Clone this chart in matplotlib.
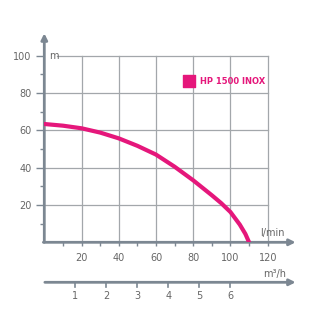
import matplotlib
matplotlib.use("Agg")
import matplotlib.pyplot as plt

# pump curve (flow l/min, head m)
flow = [0, 10, 20, 30, 40, 50, 60, 70, 80, 90, 95, 100, 105, 108, 110]
head = [63.4, 62.5, 61.1, 58.8, 55.7, 51.7, 47.0, 40.5, 33.2, 25.2, 21.0, 16.2, 9.5, 4.5, 0.0]

x_ticks = [20, 40, 60, 80, 100, 120]
y_ticks = [20, 40, 60, 80, 100]
m3h_ticks = [1, 2, 3, 4, 5, 6]
series_name = "HP 1500 INOX"

axis_col = "#7c8792"
grid_col = "#a3a7ab"
text_col = "#666666"
pink = "#e5177b"

W, H = 322, 318
fig = plt.figure(figsize=(W / 100, H / 100), dpi=100)

left = 44.3 / W
width = 135 * 1.8617 / W
ax = fig.add_axes([left, 75.7 / H, width, 112 * 1.866 / H])
ax.set_xlim(0, 135)
ax.set_ylim(0, 112)
for s in ax.spines.values():
    s.set_visible(False)

# grid
for x in x_ticks:
    ax.plot([x, x], [0, 100], color=grid_col, lw=0.9, zorder=1)
for y in y_ticks[:-1]:
    ax.plot([0, 120], [y, y], color=grid_col, lw=0.9, zorder=1)
ax.plot([7, 120], [100, 100], color=grid_col, lw=0.9, zorder=1)
ax.text(2.5, 100, "m", color=text_col, fontsize=7, va="center", ha="left")

# axes with arrows
arrow = dict(arrowstyle="-|>", color=axis_col, lw=2, mutation_scale=9, shrinkA=0, shrinkB=0)
ax.annotate("", xy=(135, 0), xytext=(-0.5, 0), arrowprops=arrow)
ax.annotate("", xy=(0, 112), xytext=(0, 0), arrowprops=arrow)

ax.set_xticks(x_ticks)
ax.set_xticks([10, 30, 50, 70, 90, 110], minor=True)
ax.set_yticks(y_ticks)
ax.set_yticks([10, 30, 50, 70, 90], minor=True)
ax.tick_params(axis="x", which="both", direction="out", length=3, width=1, color=axis_col,
               labelsize=7, labelcolor=text_col, pad=5)
ax.tick_params(axis="y", which="major", direction="out", length=6, width=1, color=axis_col,
               labelsize=7, labelcolor=text_col, pad=3)
ax.tick_params(axis="y", which="minor", direction="out", length=3, width=1, color=axis_col)

ax.plot(flow, head, color=pink, lw=3, solid_capstyle="round", solid_joinstyle="round", zorder=3)

ax.text(116, 5, "l/min", color=text_col, fontsize=7, ha="left", va="center")

# legend
ax.scatter([77.6], [86.7], marker="s", s=75, color=pink, zorder=4)
ax.text(83.5, 86.3, series_name, color=pink, fontsize=6, fontweight="bold", va="center")

# second axis: m3/h
ax2 = fig.add_axes([left, (35.7 - 10) / H, width, 20 / H])
ax2.set_xlim(0, 135)
ax2.set_ylim(-1, 1)
ax2.axis("off")
ax2.annotate("", xy=(135, 0), xytext=(0.3, 0), arrowprops=arrow)
for v in m3h_ticks:
    x = v / 0.06
    ax2.plot([x, x], [0, -0.45], color=axis_col, lw=1.2)
    ax2.text(x, -1.35, str(v), color=text_col, fontsize=7, ha="center", va="center")
ax2.text(117.5, 0.85, "m\u00b3/h", color=text_col, fontsize=7, ha="left", va="center")

fig.savefig("out.png", dpi=100, facecolor="white")
